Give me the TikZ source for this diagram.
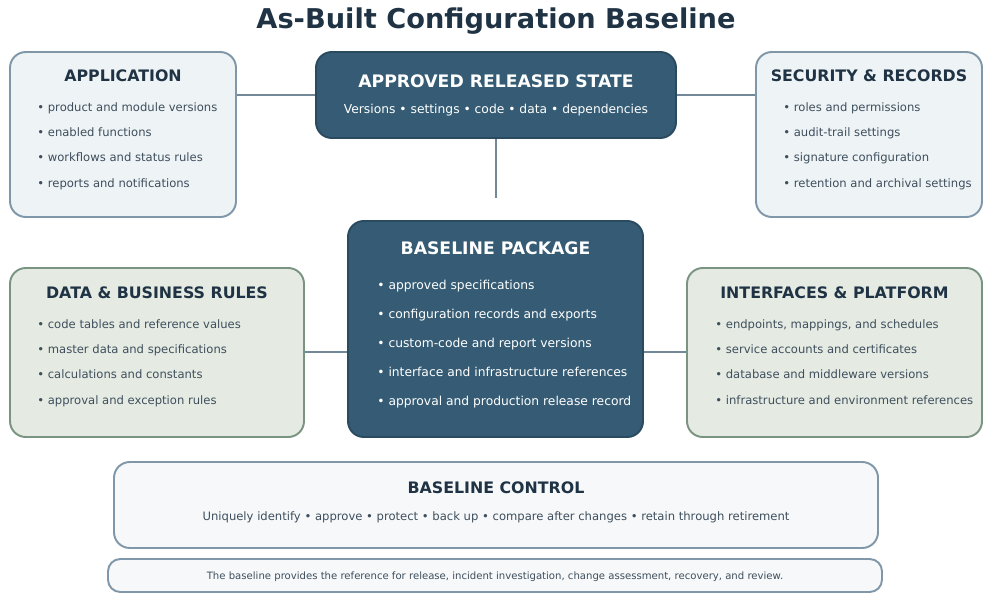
\documentclass[tikz,border=0pt]{standalone}
\usepackage{fontspec}
\setmainfont{DejaVu Sans}
\usepackage{xcolor}
\usetikzlibrary{positioning}

\definecolor{darkblue}{HTML}{355C74}
\definecolor{darkedge}{HTML}{2A4A5F}
\definecolor{lightblue}{HTML}{EEF3F6}
\definecolor{blueedge}{HTML}{7F97A8}
\definecolor{lightgreen}{HTML}{E5EBE3}
\definecolor{greenedge}{HTML}{7A9482}
\definecolor{paleblue}{HTML}{F6F8FA}
\definecolor{titleink}{HTML}{1F3344}
\definecolor{textink}{HTML}{3E4E5C}

\begin{document}
\begin{tikzpicture}[x=0.02cm, y=-0.02cm,
    box/.style={rectangle, rounded corners=9pt, line width=1.1pt, inner sep=0pt},
    appbox/.style={box, draw=blueedge, fill=lightblue},
    rulebox/.style={box, draw=greenedge, fill=lightgreen},
    corebox/.style={box, draw=darkedge, fill=darkblue},
    ctrlbox/.style={box, draw=blueedge, fill=paleblue},
    head/.style={font=\bfseries\fontsize{9}{10}\selectfont, text=titleink},
    corehead/.style={font=\bfseries\fontsize{9.8}{11}\selectfont, text=white},
    item/.style={anchor=base west, font=\fontsize{6.6}{8}\selectfont, text=textink, inner sep=0pt},
    coreitem/.style={item, text=white, font=\fontsize{7}{8}\selectfont},
    link/.style={line width=1.6pt, draw=blueedge!90!black}
]
\useasboundingbox (0,0) rectangle (1000,602);

\node[font=\bfseries\fontsize{15.5}{19}\selectfont, text=titleink] (title) at (496,21) {As-Built Configuration Baseline};

% links (behind the boxes)
\coordinate (appR) at (236,95);
\coordinate (secL) at (756,95);
\coordinate (stub) at (496,198);
\coordinate (dataR) at (304,352);
\coordinate (intL) at (687,352);
\draw[link] (appR) -- (secL);
\draw[link] (496,138) -- (stub);
\draw[link] (dataR) -- (intL);

% boxes
\node[appbox, minimum width=226*0.02cm, minimum height=165*0.02cm] (app) at (123,134.5) {};
\node[corebox, minimum width=360*0.02cm, minimum height=86*0.02cm] (approved) at (496,95) {};
\node[appbox, minimum width=226*0.02cm, minimum height=165*0.02cm] (security) at (869,134.5) {};
\node[rulebox, minimum width=294*0.02cm, minimum height=169*0.02cm] (data) at (157,352.5) {};
\node[corebox, minimum width=295*0.02cm, minimum height=216*0.02cm] (package) at (495.5,329) {};
\node[rulebox, minimum width=295*0.02cm, minimum height=169*0.02cm] (interfaces) at (834.5,352.5) {};
\node[ctrlbox, minimum width=764*0.02cm, minimum height=86*0.02cm] (control) at (496,505) {};
\node[ctrlbox, rounded corners=7pt, minimum width=774*0.02cm, minimum height=33*0.02cm] (footer) at (495,575.5) {};

% headings
\node[head] (apphead) at (123,76) {APPLICATION};
\node[corehead] (approvedhead) at (496,81) {APPROVED RELEASED STATE};
\node[font=\fontsize{7}{8}\selectfont, text=white] (approvedtext) at (496,110) {Versions • settings • code • data • dependencies};
\node[head] (securityhead) at (869,76) {SECURITY \& RECORDS};
\node[head] (datahead) at (157,293) {DATA \& BUSINESS RULES};
\node[corehead] (packagehead) at (495.5,248) {BASELINE PACKAGE};
\node[head] (interfaceshead) at (834.5,293) {INTERFACES \& PLATFORM};
\node[head] (controlhead) at (496,488) {BASELINE CONTROL};
\node[font=\fontsize{6.6}{8}\selectfont, text=textink] (controltext) at (496,517) {Uniquely identify • approve • protect • back up • compare after changes • retain through retirement};
\node[font=\fontsize{5.75}{7}\selectfont, text=textink] (footertext) at (495,577) {The baseline provides the reference for release, incident investigation, change assessment, recovery, and review.};

% bullet lists
\foreach \t [count=\i] in {product and module versions, enabled functions, workflows and status rules, reports and notifications}
  \node[item] (app\i) at (37,86+25.3*\i) {• \t};
\foreach \t [count=\i] in {roles and permissions, audit-trail settings, signature configuration, retention and archival settings}
  \node[item] (security\i) at (783,86+25.3*\i) {• \t};
\foreach \t [count=\i] in {code tables and reference values, master data and specifications, calculations and constants, approval and exception rules}
  \node[item] (data\i) at (37,303+25.3*\i) {• \t};
\foreach \t [count=\i] in {endpoints{,} mappings{,} and schedules, service accounts and certificates, database and middleware versions, infrastructure and environment references}
  \node[item] (interfaces\i) at (715,303+25.3*\i) {• \t};
\foreach \t [count=\i] in {approved specifications, configuration records and exports, custom-code and report versions, interface and infrastructure references, approval and production release record}
  \node[coreitem] (package\i) at (377,260+29*\i) {• \t};

\end{tikzpicture}
\end{document}
